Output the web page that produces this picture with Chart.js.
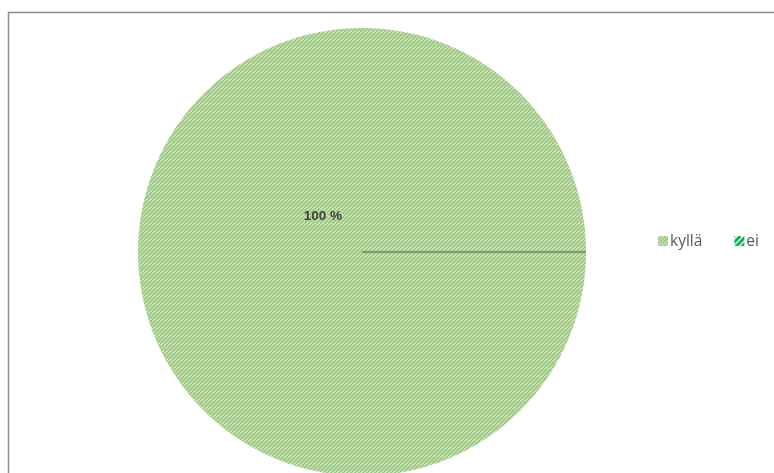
<!DOCTYPE html>
<html>
<head>
<meta charset="utf-8">
<script src="https://cdn.jsdelivr.net/npm/chart.js@4.4.1/dist/chart.umd.min.js"></script>
<style>
  html, body { margin: 0; padding: 0; background: #fff; overflow: hidden; width: 774px; height: 473px; }
  #wrap { position: relative; width: 774px; height: 482px; }
</style>
</head>
<body>
<div id="wrap"><canvas id="c"></canvas></div>
<script>
// Answer categories and their shares (%)
const categories = ['kyllä', 'ei'];
const shares = [100, 0];

// Diagonal hatch fills
function hatch(size, step, bg, fg, lw) {
  const t = document.createElement('canvas');
  t.width = size; t.height = size;
  const g = t.getContext('2d');
  g.fillStyle = bg; g.fillRect(0, 0, size, size);
  g.strokeStyle = fg; g.lineWidth = lw;
  for (let k = -2 * size; k <= 2 * size; k += step) {
    g.beginPath(); g.moveTo(k, size); g.lineTo(k + size, 0); g.stroke();
  }
  return g.createPattern(t, 'repeat');
}
const ctx0 = document.getElementById('c').getContext('2d');
const fills = [hatch(8, 4, '#dbeccf', '#a0c787', 2), hatch(12, 6, '#ffffff', '#00b050', 3)];

// Outer frame
const framePlugin = {
  id: 'frame',
  beforeDraw(chart) {
    const c = chart.ctx;
    c.save();
    c.strokeStyle = '#8c8c8c';
    c.lineWidth = 1.5;
    c.strokeRect(8.5, 12.5, chart.width + 20, chart.height + 20);
    c.restore();
  }
};

// Slice separators, value labels and the inline legend
const decorPlugin = {
  id: 'decor',
  afterDatasetsDraw(chart) {
    const c = chart.ctx;
    const meta = chart.getDatasetMeta(0);
    const data = chart.data.datasets[0].data;
    const total = data.reduce((a, b) => a + b, 0);
    c.save();
    // radial edge where an empty slice sits
    meta.data.forEach((arc, i) => {
      if (data[i] === 0) {
        const a = arc.startAngle;
        c.strokeStyle = '#6d8a60';
        c.lineWidth = 1.3;
        c.beginPath();
        c.moveTo(arc.x, arc.y);
        c.lineTo(arc.x + arc.outerRadius * Math.cos(a), arc.y + arc.outerRadius * Math.sin(a));
        c.stroke();
      }
    });
    // value labels
    c.font = 'bold 13.5px "Liberation Sans", Arial, sans-serif';
    c.fillStyle = '#404040';
    c.textAlign = 'center';
    c.textBaseline = 'middle';
    meta.data.forEach((arc, i) => {
      if (data[i] > 0) {
        const pct = Math.round(data[i] / total * 100);
        const r = arc.outerRadius;
        c.fillText(pct + ' %', arc.x - 0.175 * r, arc.y - 0.16 * r);
      }
    });
    // legend
    c.font = '15.5px "Open Sans", "Liberation Sans", sans-serif';
    c.textAlign = 'left';
    let x = 658;
    const y = 241;
    chart.data.labels.forEach((lab, i) => {
      c.save();
      c.translate(x, y - 5);
      c.fillStyle = fills[i];
      c.fillRect(0, 0, 10, 10);
      c.restore();
      c.fillStyle = '#595959';
      c.fillText(lab, x + 12, y + 1);
      x += 12 + c.measureText(lab).width + 32;
    });
    c.restore();
  }
};

new Chart(ctx0, {
  type: 'pie',
  data: {
    labels: categories,
    datasets: [{
      data: shares,
      backgroundColor: fills,
      borderWidth: 0
    }]
  },
  options: {
    responsive: true,
    maintainAspectRatio: false,
    animation: false,
    rotation: 90,
    layout: { padding: { top: 28, left: 138, right: 188, bottom: 6 } },
    plugins: {
      legend: { display: false },
      tooltip: { enabled: false }
    },
    events: []
  },
  plugins: [framePlugin, decorPlugin]
});
</script>
</body>
</html>
